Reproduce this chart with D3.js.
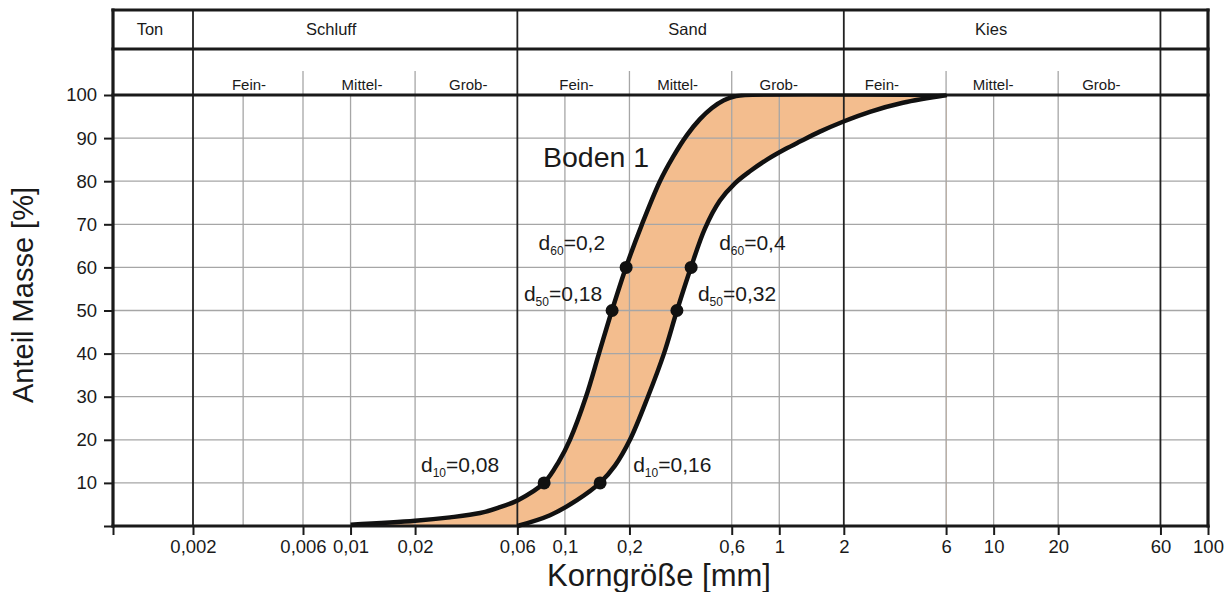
<!DOCTYPE html>
<html><head><meta charset="utf-8">
<script src="https://cdn.jsdelivr.net/npm/d3@7"></script>
<style>
body{margin:0;background:#fff}
svg{display:block}
text{font-family:"Liberation Sans",Arial,sans-serif;fill:#1a1a1a}
</style>
</head><body>
<svg id="chart" width="1230" height="592"></svg>
<script>
// ---- data ----
const xTickValues = [0.002,0.006,0.01,0.02,0.06,0.1,0.2,0.6,1,2,6,10,20,60,100];
const xTickLabels = ["0,002","0,006","0,01","0,02","0,06","0,1","0,2","0,6","1","2","6","10","20","60","100"];
const yTickValues = [0,10,20,30,40,50,60,70,80,90,100];
const mainBounds = [0.002,0.06,2,60];
const lightGrid = [0.0033,0.006,0.01,0.02,0.1,0.2,0.6,1,6,10,20];
const categories = ["Ton","Schluff","Sand","Kies",""];
const categoryEdges = [0.00081,0.002,0.06,2,60,100];
const subCategories = ["Fein-","Mittel-","Grob-"];
const subEdgesSchluff = [0.002,0.006,0.02,0.06];
const subEdgesSand = [0.06,0.2,0.6,2];
const subEdgesKies = [2,6,20,60];

// fine boundary curve (Boden 1, left)
const fineSize = [0.01,0.02,0.0291,0.0402,0.0487,0.0604,0.0799,0.0938,0.1055,0.1254,0.1441,0.1657,0.1926,0.2288,0.2775,0.319,0.3709,0.4265,0.4851,0.5518,0.6279,0.6915,6];
const finePass = [0.3,1.2,2,3,4.2,6,10,15,20,30,40,50,60,70,80,85.6,90.7,94.4,97,98.8,99.75,100,100];
// coarse boundary curve (right)
const coarseSize = [0.06,0.0852,0.1138,0.1457,0.1712,0.2011,0.2439,0.2897,0.3332,0.3871,0.4499,0.5287,0.621,0.7295,0.8758,1.0624,1.2485,1.5474,1.981,2.647,3.773,6.05];
const coarsePass = [0,2.5,6,10,14,20,30,40,50,60,69,75.5,79.5,82.3,85,87.4,89.2,91.5,93.8,96.1,98.2,100];

const dIndex = ["10","50","60"];
const dPass = [10,50,60];
const dFineSize = [0.08,0.166,0.193];
const dFineLabel = ["0,08","0,18","0,2"];
const dCoarseSize = [0.146,0.333,0.388];
const dCoarseLabel = ["0,16","0,32","0,4"];
const soilName = "Boden 1";
const xTitle = "Korngröße [mm]";
const yTitle = "Anteil Masse [%]";

// ---- layout ----
const L = 113, R = 1208, T = 10, H1 = 49, TOP = 95, B = 526;
const svg = d3.select("#chart");
const x = d3.scaleLog().domain([0.00081,0.002,0.006,100]).range([L,193,303,R]);
const y = d3.scaleLinear().domain([0,100]).range([B,TOP]);

svg.append("defs").append("clipPath").attr("id","plotClip")
  .append("rect").attr("x",L).attr("y",TOP-1.6).attr("width",R-L).attr("height",B-TOP+4);

const curve = d3.curveCatmullRom.alpha(0.5);
const fineData = fineSize.map((s,i)=>[s,finePass[i]]);
const coarseData = coarseSize.map((s,i)=>[s,coarsePass[i]]);

// fill between curves (evenodd)
const areaGen = d3.area().x(d=>x(d[0])).y1(d=>y(d[1])).y0(y(0)).curve(curve);
svg.append("path")
  .attr("clip-path","url(#plotClip)")
  .attr("d", areaGen(fineData) + areaGen(coarseData))
  .attr("fill","#f3bd8e").attr("fill-rule","evenodd");

// grid
const g = svg.append("g");
g.selectAll(".hg").data(yTickValues.filter(v=>v>0&&v<100)).join("line")
  .attr("x1",L).attr("x2",R).attr("y1",d=>y(d)).attr("y2",d=>y(d))
  .attr("stroke","#a6a6a6").attr("stroke-width",1.3);
g.selectAll(".vg").data(lightGrid).join("line")
  .attr("x1",d=>x(d)).attr("x2",d=>x(d)).attr("y1",TOP).attr("y2",B)
  .attr("stroke","#a6a6a6").attr("stroke-width",1.3);
const subSeps = [subEdgesSchluff[1],subEdgesSchluff[2],subEdgesSand[1],subEdgesSand[2],subEdgesKies[1],subEdgesKies[2]];
g.selectAll(".ss").data(subSeps).join("line")
  .attr("x1",d=>x(d)).attr("x2",d=>x(d)).attr("y1",71).attr("y2",TOP)
  .attr("stroke","#a6a6a6").attr("stroke-width",1.3);
g.selectAll(".mb").data(mainBounds).join("line")
  .attr("x1",d=>x(d)).attr("x2",d=>x(d)).attr("y1",T).attr("y2",B)
  .attr("stroke","#222").attr("stroke-width",1.8);

// frame lines
const thick = (x1,y1,x2,y2,w)=>svg.append("line").attr("x1",x1).attr("y1",y1).attr("x2",x2).attr("y2",y2)
  .attr("stroke","#1a1a1a").attr("stroke-width",w).attr("stroke-linecap","square");
thick(L,T,R,T,3.2);
thick(L,H1,R,H1,3.2);
thick(L,TOP,R,TOP,3.2);
thick(L,B,R,B,3.2);
thick(L,T,L,B,3.2);
thick(R,T,R,B,3.2);

// header text (small offsets to follow the reference placement)
const catOffsets = [-3,-24,7,-11,0];
svg.append("g").selectAll("text").data(categories).join("text")
  .attr("x",(d,i)=>(x(categoryEdges[i])+x(categoryEdges[i+1]))/2 + catOffsets[i])
  .attr("y",29).attr("text-anchor","middle").attr("dominant-baseline","central")
  .attr("font-size",16.5).text(d=>d);
const subOffsets = [[1,3,2],[3,-3,-9],[-13,-9,-8]];
[subEdgesSchluff,subEdgesSand,subEdgesKies].forEach((edges,k)=>{
  svg.append("g").selectAll("text").data(subCategories).join("text")
    .attr("x",(d,i)=>(x(edges[i])+x(edges[i+1]))/2 + subOffsets[k][i])
    .attr("y",84).attr("text-anchor","middle").attr("dominant-baseline","central")
    .attr("font-size",15).text(d=>d);
});

// axes
const xAxis = svg.append("g").attr("transform",`translate(0,${B})`)
  .call(d3.axisBottom(x).tickValues([0.00081].concat(xTickValues)).tickSize(9).tickPadding(5)
    .tickFormat(d=>{const i=xTickValues.indexOf(d);return i<0?"":xTickLabels[i];}));
xAxis.select(".domain").remove();
xAxis.selectAll("line").attr("stroke","#1a1a1a").attr("stroke-width",2);
xAxis.selectAll("text").attr("font-size",18.5).attr("fill","#1a1a1a").attr("font-family","Liberation Sans, Arial, sans-serif");

const yAxis = svg.append("g").attr("transform",`translate(${L},0)`)
  .call(d3.axisLeft(y).tickValues(yTickValues).tickSize(9).tickPadding(7)
    .tickFormat(d=>d===0?"":String(d)));
yAxis.select(".domain").remove();
yAxis.selectAll("line").attr("stroke","#1a1a1a").attr("stroke-width",2);
yAxis.selectAll("text").attr("font-size",18.5).attr("fill","#1a1a1a").attr("font-family","Liberation Sans, Arial, sans-serif");

// axis titles
svg.append("text").attr("transform","translate(33,295) rotate(-90)")
  .attr("text-anchor","middle").attr("font-size",29).text(yTitle);
svg.append("text").attr("x",659).attr("y",586)
  .attr("text-anchor","middle").attr("font-size",31).text(xTitle);

// curves
const lineGen = d3.line().x(d=>x(d[0])).y(d=>y(d[1])).curve(curve);
const curves = svg.append("g").attr("clip-path","url(#plotClip)");
curves.append("path").attr("d",lineGen(fineData)).attr("fill","none")
  .attr("stroke","#111").attr("stroke-width",4.5);
curves.append("path").attr("d",lineGen(coarseData)).attr("fill","none")
  .attr("stroke","#111").attr("stroke-width",4.5);

// markers
const pts = dPass.map((p,i)=>({s:dFineSize[i],p,lab:dFineLabel[i],idx:dIndex[i],side:"L"}))
  .concat(dPass.map((p,i)=>({s:dCoarseSize[i],p,lab:dCoarseLabel[i],idx:dIndex[i],side:"R"})));
svg.append("g").selectAll("circle").data(pts).join("circle")
  .attr("cx",d=>x(d.s)).attr("cy",d=>y(d.p)).attr("r",6.5).attr("fill","#111");

// marker labels (offsets from point)
const offL = {"10":[-45,-11],"50":[-10,-10],"60":[-21,-17]};
const offR = {"10":[33,-11],"50":[21,-10],"60":[28,-17]};
pts.forEach(d=>{
  const o = d.side==="L"?offL[d.idx]:offR[d.idx];
  const t = svg.append("text").attr("x",x(d.s)+o[0]).attr("y",y(d.p)+o[1])
    .attr("text-anchor",d.side==="L"?"end":"start").attr("font-size",21);
  t.append("tspan").text("d");
  t.append("tspan").attr("font-size",12).attr("dy",5).text(d.idx);
  t.append("tspan").attr("dy",-5).text("="+d.lab);
});

svg.append("text").attr("x",543).attr("y",167).attr("font-size",28.5).text(soilName);
</script>
</body></html>
